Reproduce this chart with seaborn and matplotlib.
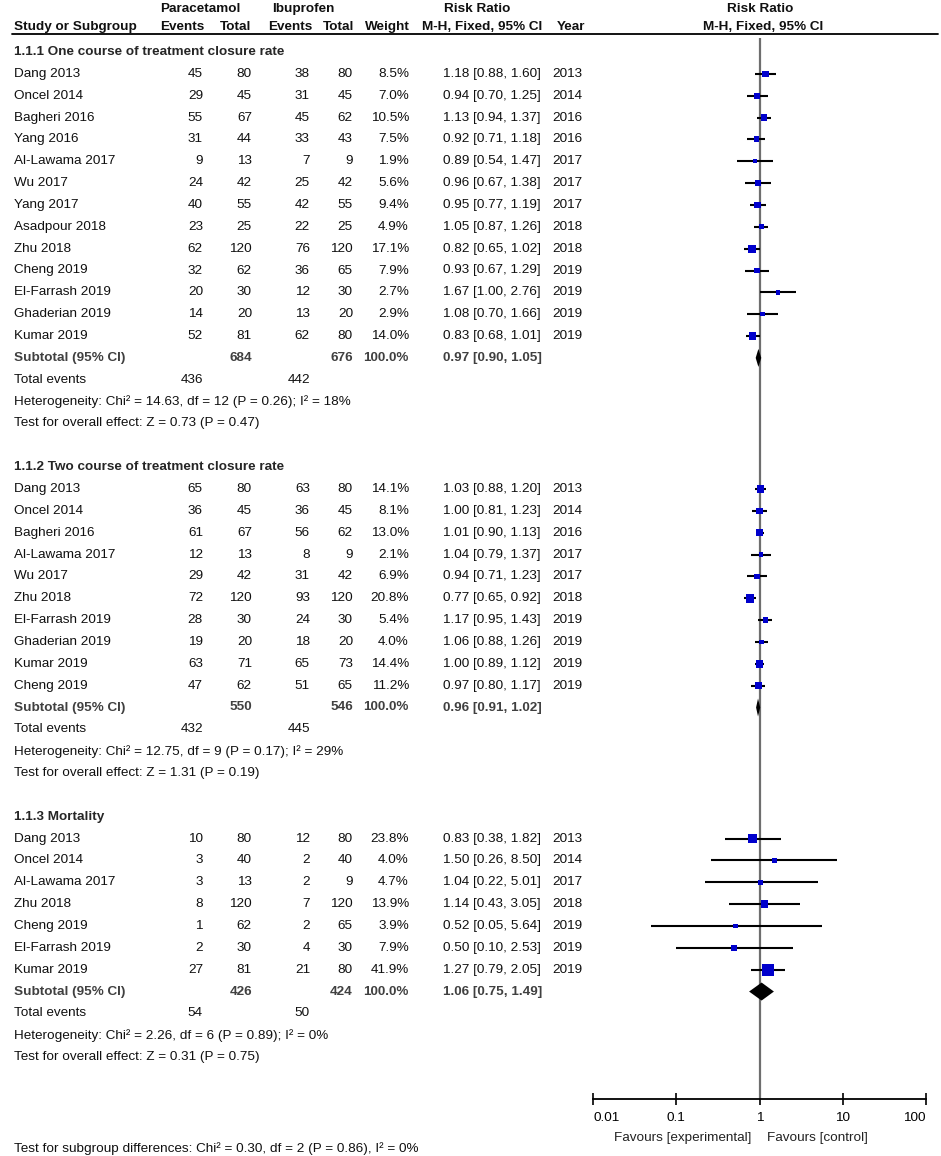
import numpy as np
import pandas as pd
import matplotlib
matplotlib.use("Agg")
import matplotlib.pyplot as plt
from matplotlib.ticker import NullLocator
import seaborn as sns

sns.set_theme(style="white")
plt.rcParams['font.family'] = ['Liberation Sans', 'DejaVu Sans']

# 1. Datos
g1_title = "1.1.1 One course of treatment closure rate"
g1_study = ["Dang 2013", "Oncel 2014", "Bagheri 2016", "Yang 2016", "Al-Lawama 2017", "Wu 2017",
            "Yang 2017", "Asadpour 2018", "Zhu 2018", "Cheng 2019", "El-Farrash 2019",
            "Ghaderian 2019", "Kumar 2019"]
g1_ev_p  = [45, 29, 55, 31, 9, 24, 40, 23, 62, 32, 20, 14, 52]
g1_tot_p = [80, 45, 67, 44, 13, 42, 55, 25, 120, 62, 30, 20, 81]
g1_ev_i  = [38, 31, 45, 33, 7, 25, 42, 22, 76, 36, 12, 13, 62]
g1_tot_i = [80, 45, 62, 43, 9, 42, 55, 25, 120, 65, 30, 20, 80]
g1_weight = [8.5, 7.0, 10.5, 7.5, 1.9, 5.6, 9.4, 4.9, 17.1, 7.9, 2.7, 2.9, 14.0]
g1_rr = [1.18, 0.94, 1.13, 0.92, 0.89, 0.96, 0.95, 1.05, 0.82, 0.93, 1.67, 1.08, 0.83]
g1_lo = [0.88, 0.70, 0.94, 0.71, 0.54, 0.67, 0.77, 0.87, 0.65, 0.67, 1.00, 0.70, 0.68]
g1_hi = [1.60, 1.25, 1.37, 1.18, 1.47, 1.38, 1.19, 1.26, 1.02, 1.29, 2.76, 1.66, 1.01]
g1_year = [2013, 2014, 2016, 2016, 2017, 2017, 2017, 2018, 2018, 2019, 2019, 2019, 2019]
g1_sub = (684, 676, 0.97, 0.90, 1.05)
g1_events = (436, 442)
g1_het = "Heterogeneity: Chi² = 14.63, df = 12 (P = 0.26); I² = 18%"
g1_test = "Test for overall effect: Z = 0.73 (P = 0.47)"

g2_title = "1.1.2 Two course of treatment closure rate"
g2_study = ["Dang 2013", "Oncel 2014", "Bagheri 2016", "Al-Lawama 2017", "Wu 2017", "Zhu 2018",
            "El-Farrash 2019", "Ghaderian 2019", "Kumar 2019", "Cheng 2019"]
g2_ev_p  = [65, 36, 61, 12, 29, 72, 28, 19, 63, 47]
g2_tot_p = [80, 45, 67, 13, 42, 120, 30, 20, 71, 62]
g2_ev_i  = [63, 36, 56, 8, 31, 93, 24, 18, 65, 51]
g2_tot_i = [80, 45, 62, 9, 42, 120, 30, 20, 73, 65]
g2_weight = [14.1, 8.1, 13.0, 2.1, 6.9, 20.8, 5.4, 4.0, 14.4, 11.2]
g2_rr = [1.03, 1.00, 1.01, 1.04, 0.94, 0.77, 1.17, 1.06, 1.00, 0.97]
g2_lo = [0.88, 0.81, 0.90, 0.79, 0.71, 0.65, 0.95, 0.88, 0.89, 0.80]
g2_hi = [1.20, 1.23, 1.13, 1.37, 1.23, 0.92, 1.43, 1.26, 1.12, 1.17]
g2_year = [2013, 2014, 2016, 2017, 2017, 2018, 2019, 2019, 2019, 2019]
g2_sub = (550, 546, 0.96, 0.91, 1.02)
g2_events = (432, 445)
g2_het = "Heterogeneity: Chi² = 12.75, df = 9 (P = 0.17); I² = 29%"
g2_test = "Test for overall effect: Z = 1.31 (P = 0.19)"

g3_title = "1.1.3 Mortality"
g3_study = ["Dang 2013", "Oncel 2014", "Al-Lawama 2017", "Zhu 2018", "Cheng 2019",
            "El-Farrash 2019", "Kumar 2019"]
g3_ev_p  = [10, 3, 3, 8, 1, 2, 27]
g3_tot_p = [80, 40, 13, 120, 62, 30, 81]
g3_ev_i  = [12, 2, 2, 7, 2, 4, 21]
g3_tot_i = [80, 40, 9, 120, 65, 30, 80]
g3_weight = [23.8, 4.0, 4.7, 13.9, 3.9, 7.9, 41.9]
g3_rr = [0.83, 1.50, 1.04, 1.14, 0.52, 0.50, 1.27]
g3_lo = [0.38, 0.26, 0.22, 0.43, 0.05, 0.10, 0.79]
g3_hi = [1.82, 8.50, 5.01, 3.05, 5.64, 2.53, 2.05]
g3_year = [2013, 2014, 2017, 2018, 2019, 2019, 2019]
g3_sub = (426, 424, 1.06, 0.75, 1.49)
g3_events = (54, 50)
g3_het = "Heterogeneity: Chi² = 2.26, df = 6 (P = 0.89); I² = 0%"
g3_test = "Test for overall effect: Z = 0.31 (P = 0.75)"

subgroup_diff = "Test for subgroup differences: Chi² = 0.30, df = 2 (P = 0.86), I² = 0%"
x_ticks = [0.01, 0.1, 1, 10, 100]
x_ticklabels = ["0.01", "0.1", "1", "10", "100"]

groups = [
    (g1_title, g1_study, g1_ev_p, g1_tot_p, g1_ev_i, g1_tot_i, g1_weight, g1_rr, g1_lo, g1_hi, g1_year, g1_sub, g1_events, g1_het, g1_test),
    (g2_title, g2_study, g2_ev_p, g2_tot_p, g2_ev_i, g2_tot_i, g2_weight, g2_rr, g2_lo, g2_hi, g2_year, g2_sub, g2_events, g2_het, g2_test),
    (g3_title, g3_study, g3_ev_p, g3_tot_p, g3_ev_i, g3_tot_i, g3_weight, g3_rr, g3_lo, g3_hi, g3_year, g3_sub, g3_events, g3_het, g3_test),
]

# 2. Figura (coordenadas en píxeles)
W, H = 941, 1156
fs = 9.7
txt_col = "#101010"
sub_col = "#404040"
y0, dy = 52, 21.85   # primera fila y separación

fig = plt.figure(figsize=(W / 100, H / 100), dpi=100)
axt = fig.add_axes([0, 0, 1, 1])
axt.set_xlim(0, W); axt.set_ylim(H, 0); axt.axis("off")

ax_top, ax_bot = 38, 1099
x_lo_px, x_hi_px = 593, 926
axf = fig.add_axes([x_lo_px / W, (H - ax_bot) / H, (x_hi_px - x_lo_px) / W, (ax_bot - ax_top) / H])
axf.set_xscale("log")
axf.set_xlim(0.01, 100)
axf.set_ylim(ax_bot, ax_top)
axf.patch.set_alpha(0)

def t(x, y, s, ha="left", bold=False, color=txt_col):
    axt.text(x, y, s, ha=ha, va="center", fontsize=fs, color=color,
             fontweight="bold" if bold else "normal")

# Cabecera
t(200, 9, "Paracetamol", ha="center", bold=True)
t(303, 9, "Ibuprofen", ha="center", bold=True)
t(477, 9, "Risk Ratio", ha="center", bold=True)
t(760, 9, "Risk Ratio", ha="center", bold=True)
t(14, 27, "Study or Subgroup", bold=True)
t(204, 27, "Events", ha="right", bold=True)
t(251, 27, "Total", ha="right", bold=True)
t(312, 27, "Events", ha="right", bold=True)
t(354, 27, "Total", ha="right", bold=True)
t(410, 27, "Weight", ha="right", bold=True)
t(422, 27, "M-H, Fixed, 95% CI", bold=True)
t(557, 27, "Year", bold=True)
t(763, 27, "M-H, Fixed, 95% CI", ha="center", bold=True)
axt.plot([12, 938], [34, 34], color="black", lw=1.3)

# 3. Filas
rows = []
diamonds = []
idx = 0
for (title, study, ev_p, tot_p, ev_i, tot_i, w, rr, lo, hi, year, sub, events, het, test) in groups:
    t(14, y0 + idx * dy, title, bold=True, color="#262626")
    idx += 1
    for k in range(len(study)):
        y = y0 + idx * dy
        t(14, y, study[k])
        t(203, y, str(ev_p[k]), ha="right")
        t(252, y, str(tot_p[k]), ha="right")
        t(310, y, str(ev_i[k]), ha="right")
        t(353, y, str(tot_i[k]), ha="right")
        t(409, y, f"{w[k]:.1f}%", ha="right")
        t(443, y, f"{rr[k]:.2f} [{lo[k]:.2f}, {hi[k]:.2f}]")
        t(552, y, str(year[k]))
        rows.append(dict(y=y, rr=rr[k], lo=lo[k], hi=hi[k], w=w[k]))
        idx += 1
    y = y0 + idx * dy
    t(14, y, "Subtotal (95% CI)", bold=True, color=sub_col)
    t(252, y, str(sub[0]), ha="right", bold=True, color=sub_col)
    t(353, y, str(sub[1]), ha="right", bold=True, color=sub_col)
    t(409, y, "100.0%", ha="right", bold=True, color=sub_col)
    t(443, y, f"{sub[2]:.2f} [{sub[3]:.2f}, {sub[4]:.2f}]", bold=True, color=sub_col)
    diamonds.append((y, sub[2], sub[3], sub[4]))
    idx += 1
    y = y0 + idx * dy
    t(14, y, "Total events")
    t(203, y, str(events[0]), ha="right")
    t(310, y, str(events[1]), ha="right")
    idx += 1
    t(14, y0 + idx * dy, het)
    idx += 1
    t(14, y0 + idx * dy, test)
    idx += 2

t(14, 1149, subgroup_diff)

# 4. Forest plot
df = pd.DataFrame(rows)
axf.axvline(1, color="#6e6e6e", lw=1.6, zorder=1)
axf.hlines(df["y"], df["lo"], df["hi"], color="black", lw=1.5, zorder=2)
sns.scatterplot(data=df, x="rr", y="y", size="w", sizes=(6, 166), size_norm=(0, 100),
                marker="s", color="#0000cc", linewidth=0, legend=False, ax=axf, zorder=3)
for (y, est, lo, hi) in diamonds:
    axf.fill([lo, est, hi, est], [y, y - 9, y, y + 9], color="black", lw=0, zorder=4)

axf.set_xlabel(""); axf.set_ylabel("")
axf.set_yticks([])
axf.set_xticks(x_ticks)
axf.set_xticklabels(x_ticklabels)
axf.xaxis.set_minor_locator(NullLocator())
axf.tick_params(axis="x", bottom=True, direction="inout", length=9, width=1.2,
                pad=5, labelsize=fs, colors="black")
for sp in ["left", "right", "top"]:
    axf.spines[sp].set_visible(False)
axf.spines["bottom"].set_color("black")
axf.spines["bottom"].set_linewidth(1.3)
labs = axf.get_xticklabels()
labs[0].set_ha("left")
labs[-1].set_ha("right")

t(751, 1138, "Favours [experimental]", ha="right", color="#222222")
t(767, 1138, "Favours [control]", color="#222222")

fig.savefig("out.png", dpi=100)
